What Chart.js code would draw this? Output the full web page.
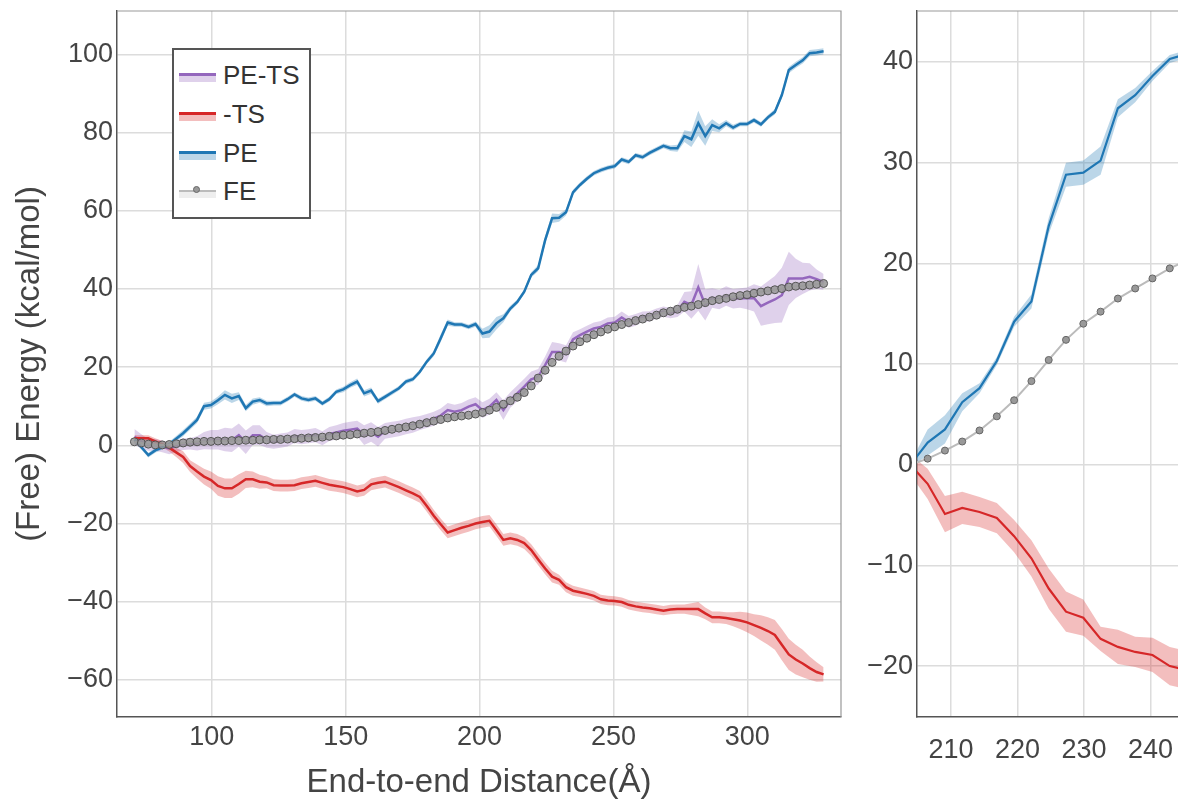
<!DOCTYPE html>
<html>
<head>
<meta charset="utf-8">
<script src="https://cdn.jsdelivr.net/npm/chart.js@4.4.1/dist/chart.umd.min.js"></script>
<style>
  html, body { margin: 0; padding: 0; width: 1178px; height: 803px; overflow: hidden; background: #fff; }
  #left { position: absolute; left: 0; top: 0; width: 846px; height: 803px; }
  #right { position: absolute; left: 846px; top: 0; width: 376px; height: 803px; }
  #legend { position: absolute; left: 172px; top: 48px; width: 135px; height: 167px; border: 2px solid #555; background: #fff;
            font-family: "Liberation Sans", Arial, sans-serif; font-size: 26px; color: #333; }
  .row { position: absolute; left: 0; width: 100%; height: 40px; }
  .row span { position: absolute; left: 49px; top: 0; line-height: 40px; }
  .sw { position: absolute; left: 5px; top: 18px; width: 37px; }
  .sw .ln { height: 3px; }
  .sw .bd { height: 6px; }
  .dot { position: absolute; left: 14px; top: -3px; width: 7px; height: 7px; border-radius: 50%; background: #999; border: 1px solid #666; box-sizing: border-box; }
</style>
</head>
<body>
<div id="left"><canvas id="leftChart" width="846" height="803"></canvas></div>
<div id="right"><canvas id="rightChart" width="376" height="803"></canvas></div>
<div id="legend">
  <div class="row" style="top:5px"><div class="sw"><div class="ln" style="background:#9467bd"></div><div class="bd" style="background:#dfd1eb"></div></div><span>PE-TS</span></div>
  <div class="row" style="top:44px"><div class="sw"><div class="ln" style="background:#d62728"></div><div class="bd" style="background:#f3bebe"></div></div><span>-TS</span></div>
  <div class="row" style="top:83px"><div class="sw"><div class="ln" style="background:#1f77b4"></div><div class="bd" style="background:#bcd6e8"></div></div><span>PE</span></div>
  <div class="row" style="top:121px"><div class="sw"><div class="ln" style="background:#bbb;height:2px;margin-top:1px"></div><div class="dot"></div><div class="bd" style="background:#eee"></div></div><span>FE</span></div>
</div>
<script>
// left panel: end-to-end distance grid (Å)
const leftX = [71.1, 73.7, 76.3, 78.9, 81.5, 84.1, 86.7, 89.3, 91.9, 94.5,
  97.1, 99.7, 102.3, 104.9, 107.5, 110.1, 112.7, 115.3, 117.9, 120.5,
  123.1, 125.7, 128.3, 130.9, 133.5, 136.1, 138.7, 141.3, 143.9, 146.5,
  149.1, 151.7, 154.3, 156.9, 159.5, 162.1, 164.7, 167.3, 169.9, 172.5,
  175.1, 177.7, 180.3, 182.9, 185.5, 188.1, 190.7, 193.3, 195.9, 198.5,
  201.1, 203.7, 206.3, 208.9, 211.5, 214.1, 216.7, 219.3, 221.9, 224.5,
  227.1, 229.7, 232.3, 234.9, 237.5, 240.1, 242.7, 245.3, 247.9, 250.5,
  253.1, 255.7, 258.3, 260.9, 263.5, 266.1, 268.7, 271.3, 273.9, 276.5,
  279.1, 281.7, 284.3, 286.9, 289.5, 292.1, 294.7, 297.3, 299.9, 302.5,
  305.1, 307.7, 310.3, 312.9, 315.5, 318.1, 320.7, 323.3, 325.9, 328.5];

const leftFE = [0.9, 0.6, 0.3, 0.1, 0.1, 0.2, 0.4, 0.6, 0.8, 0.9,
  1.0, 1.0, 1.1, 1.1, 1.2, 1.2, 1.3, 1.3, 1.4, 1.4,
  1.5, 1.5, 1.6, 1.7, 1.8, 1.9, 2.0, 2.1, 2.3, 2.4,
  2.6, 2.7, 2.9, 3.1, 3.3, 3.5, 3.8, 4.1, 4.4, 4.7,
  5.0, 5.4, 5.8, 6.2, 6.6, 7.0, 7.3, 7.5, 7.7, 8.0,
  8.4, 9.0, 9.7, 10.5, 11.4, 12.3, 13.5, 15.2, 17.2, 19.2,
  21.2, 22.8, 24.1, 25.4, 26.5, 27.4, 28.3, 29.0, 29.7, 30.3,
  30.9, 31.4, 31.9, 32.3, 32.8, 33.3, 33.9, 34.3, 34.8, 35.3,
  35.6, 36.0, 36.5, 37.0, 37.3, 37.6, 38.0, 38.3, 38.5, 38.9,
  39.2, 39.5, 39.8, 40.1, 40.5, 40.7, 40.8, 41.0, 41.2, 41.4];

const leftPE = [1.4, -0.5, -2.5, -1.3, -0.5, 0.3, 1.7, 3.1, 4.8, 6.5,
  10.0, 10.3, 11.5, 12.9, 12.0, 12.6, 9.5, 11.2, 11.6, 10.7,
  10.8, 10.8, 11.8, 13.0, 12.0, 11.6, 12.0, 10.7, 11.8, 13.7,
  14.3, 15.4, 16.3, 13.3, 14.0, 11.3, 12.4, 13.5, 14.6, 16.3,
  16.9, 18.8, 21.4, 23.5, 27.4, 31.4, 30.9, 30.9, 30.3, 31.0,
  28.6, 29.1, 31.2, 32.5, 35.0, 36.7, 39.3, 43.6, 45.3, 52.5,
  58.1, 58.2, 59.6, 64.7, 66.6, 68.2, 69.6, 70.4, 71.0, 71.4,
  73.1, 72.5, 74.2, 73.7, 74.8, 75.7, 76.6, 76.0, 76.0, 79.1,
  78.3, 82.4, 79.1, 81.9, 81.1, 82.4, 81.3, 82.2, 82.2, 83.2,
  82.1, 83.9, 85.3, 89.6, 96.0, 97.3, 98.5, 100.3, 100.5, 100.8];

const leftTS = [1.8, 1.8, 1.8, 1.0, 0.3, -0.6, -1.8, -3.0, -5.3, -6.7,
  -8.0, -8.9, -10.4, -11.0, -11.0, -9.9, -8.7, -8.7, -9.3, -9.5,
  -10.2, -10.3, -10.3, -10.2, -9.7, -9.4, -9.1, -9.6, -10.1, -10.4,
  -10.7, -11.2, -11.8, -11.4, -10.0, -9.6, -9.3, -10.0, -10.7, -11.5,
  -12.3, -13.2, -15.5, -18.0, -20.2, -22.3, -21.7, -21.1, -20.6, -20.0,
  -19.6, -19.3, -21.7, -24.2, -23.8, -24.2, -25.0, -26.8, -29.2, -31.5,
  -33.6, -34.4, -36.3, -37.2, -37.6, -38.0, -38.5, -39.4, -39.7, -39.8,
  -40.1, -40.8, -41.2, -41.5, -41.7, -42.0, -42.3, -42.0, -41.9, -41.9,
  -41.9, -41.9, -43.0, -44.0, -44.0, -44.2, -44.5, -44.8, -45.3, -46.0,
  -46.7, -47.5, -48.5, -51.0, -53.5, -54.8, -55.8, -57.0, -58.0, -58.6];

const leftPETS = [2.2, 1.0, 0.1, 0.1, -0.3, -0.8, -0.2, 0.3, 0.4, 0.5,
  1.2, 1.4, 1.4, 1.5, 1.3, 2.6, 0.8, 2.6, 2.6, 1.4,
  0.9, 1.2, 1.5, 2.4, 2.1, 2.3, 2.6, 1.8, 2.9, 3.3,
  3.7, 4.0, 4.3, 2.6, 3.4, 2.2, 3.7, 4.0, 4.3, 4.8,
  5.2, 5.7, 6.2, 6.8, 7.6, 9.0, 8.6, 9.0, 9.9, 10.5,
  9.0, 9.9, 11.6, 9.0, 11.6, 13.3, 15.0, 16.9, 17.5, 20.5,
  23.9, 23.9, 23.4, 27.1, 28.2, 29.1, 29.9, 30.3, 31.2, 31.4,
  32.7, 31.6, 32.1, 32.9, 33.0, 33.7, 34.2, 33.8, 34.3, 36.7,
  35.9, 40.4, 35.9, 37.7, 37.3, 38.2, 37.5, 37.7, 37.6, 37.7,
  35.6, 36.5, 37.3, 38.4, 42.7, 42.7, 42.7, 43.1, 42.5, 41.8];

// half-widths of the shaded bands
const leftPEErr = [0.6, 0.6, 0.6, 0.6, 0.6, 0.6, 0.7, 0.8, 0.8, 0.8,
  0.9, 0.9, 1.0, 1.2, 1.2, 1.0, 0.8, 0.8, 0.7, 0.7,
  0.6, 0.6, 0.6, 0.6, 0.6, 0.6, 0.6, 0.6, 0.6, 0.6,
  0.7, 0.7, 0.8, 0.8, 0.8, 0.7, 0.6, 0.6, 0.6, 0.6,
  0.6, 0.6, 0.6, 0.7, 1.0, 0.8, 0.6, 0.6, 0.6, 0.7,
  1.2, 1.6, 1.6, 1.0, 0.7, 0.6, 0.6, 0.7, 0.8, 1.0,
  1.2, 1.0, 0.8, 0.7, 0.6, 0.6, 0.6, 0.6, 0.6, 0.6,
  0.6, 0.6, 0.6, 0.6, 0.6, 0.6, 0.6, 0.7, 0.9, 1.5,
  2.0, 3.2, 2.5, 1.5, 1.0, 0.8, 0.7, 0.6, 0.6, 0.6,
  0.6, 0.6, 0.7, 0.8, 0.8, 0.8, 0.8, 0.8, 0.8, 0.8];

const leftTSErr = [0.8, 0.8, 0.8, 0.8, 0.8, 1.0, 1.2, 1.5, 1.5, 1.8,
  2.0, 2.2, 2.5, 2.5, 2.5, 2.5, 2.2, 2.0, 1.8, 1.5,
  1.5, 1.5, 1.5, 1.5, 1.5, 1.5, 1.5, 1.5, 1.5, 1.5,
  1.5, 1.5, 1.5, 1.5, 1.5, 1.5, 1.5, 1.5, 1.5, 1.5,
  1.5, 1.5, 1.5, 1.5, 1.5, 1.5, 1.5, 1.5, 1.5, 1.5,
  1.5, 1.5, 1.5, 1.5, 1.5, 1.5, 1.5, 1.5, 1.5, 1.5,
  1.5, 1.3, 1.3, 1.3, 1.2, 1.2, 1.2, 1.2, 1.2, 1.2,
  1.2, 1.2, 1.2, 1.2, 1.2, 1.2, 1.2, 1.2, 1.2, 1.2,
  1.5, 1.8, 1.5, 1.5, 1.5, 1.5, 1.8, 2.2, 2.5, 2.8,
  3.2, 3.5, 3.8, 4.0, 4.0, 3.8, 3.5, 3.0, 2.5, 1.8];

const leftPETSErr = [2.0, 1.8, 1.5, 1.5, 1.5, 1.5, 1.5, 1.5, 1.5, 1.8,
  2.2, 2.5, 2.5, 3.0, 3.0, 3.0, 3.0, 2.5, 2.5, 2.0,
  1.8, 1.8, 1.8, 1.8, 1.8, 1.8, 1.8, 1.8, 1.8, 1.8,
  2.0, 2.0, 2.0, 2.5, 2.5, 2.5, 2.0, 2.0, 2.0, 2.0,
  2.0, 1.8, 1.8, 1.8, 1.8, 1.8, 1.8, 1.8, 1.8, 1.8,
  2.0, 2.0, 2.0, 2.5, 2.0, 2.0, 2.0, 2.0, 2.0, 2.2,
  2.5, 2.2, 2.2, 1.8, 1.5, 1.5, 1.5, 1.5, 1.5, 1.5,
  1.5, 1.5, 1.5, 1.3, 1.3, 1.3, 1.3, 1.3, 1.5, 2.5,
  3.5, 6.0, 4.0, 2.5, 2.5, 2.5, 2.5, 2.5, 2.8, 3.5,
  5.0, 5.5, 6.0, 7.0, 6.8, 5.0, 4.0, 3.5, 2.5, 2.0];

// right panel (zoomed view, shifted to zero)
const rightX = [203.9, 206.5, 209.1, 211.7, 214.3, 216.9, 219.5, 222.1, 224.7, 227.3, 229.9, 232.5, 235.1, 237.7, 240.3, 242.9, 245.5];
const rightPE = [0, 2.2, 3.5, 6.2, 7.6, 10.3, 14.2, 16.2, 23.7, 28.8, 29.0, 30.2, 35.4, 36.7, 38.6, 40.3, 40.8];
const rightTS = [0, -1.9, -4.9, -4.3, -4.7, -5.3, -7.1, -9.3, -12.3, -14.6, -15.2, -17.3, -18.1, -18.6, -18.9, -20.0, -20.4];
const rightFE = [0, 0.6, 1.4, 2.3, 3.4, 4.8, 6.4, 8.3, 10.4, 12.4, 14.0, 15.2, 16.5, 17.5, 18.5, 19.5, 20.3];
const rightPEErr = [0.2, 1.3, 1.4, 0.9, 0.5, 0.4, 0.5, 0.7, 0.8, 1.2, 1.2, 1.4, 0.9, 0.7, 0.5, 0.4, 0.4];
const rightTSErr = [1.0, 1.5, 1.8, 1.6, 1.5, 1.5, 1.6, 1.8, 2.0, 2.0, 1.8, 1.2, 1.7, 1.5, 1.7, 1.9, 1.9];

// tick labels
const leftXTicks = [100, 150, 200, 250, 300];
const leftYTicks = [-60, -40, -20, 0, 20, 40, 60, 80, 100];
const rightXTicks = [210, 220, 230, 240];
const rightYTicks = [-20, -10, 0, 10, 20, 30, 40];

const FONT = '"Liberation Sans", Arial, sans-serif';
const TXT = '#444';
const fmt = v => v < 0 ? '\u2212' + Math.abs(v) : String(v);

function pts(xs, ys) {
    return xs.map((x, i) => ({ x: x, y: ys[i] }));
}

function line(xs, ys, color, width) {
    return { data: pts(xs, ys), borderColor: color, borderWidth: width, pointRadius: 0, fill: false, tension: 0 };
}

// lower edge then upper edge filled down to it
function band(xs, ys, err, color) {
    return [
        { data: xs.map((x, i) => ({ x: x, y: ys[i] - err[i] })), borderWidth: 0, pointRadius: 0, fill: false },
        { data: xs.map((x, i) => ({ x: x, y: ys[i] + err[i] })), borderWidth: 0, pointRadius: 0, fill: '-1', backgroundColor: color }
    ];
}

// light top / right spines
const framePlugin = {
    id: 'frame',
    beforeDatasetsDraw(chart) {
        const a = chart.chartArea, ctx = chart.ctx;
        ctx.save();
        ctx.strokeStyle = '#999';
        ctx.lineWidth = 1.2;
        ctx.beginPath();
        ctx.moveTo(a.left, a.top);
        ctx.lineTo(a.right, a.top);
        ctx.lineTo(a.right, a.bottom);
        ctx.stroke();
        ctx.restore();
    }
};

// fixed axis box size, no extra room for overhanging labels
function fixSize(prop, size) {
    return s => {
        s[prop] = size;
        s.paddingTop = 0; s.paddingBottom = 0; s.paddingLeft = 0; s.paddingRight = 0;
    };
}

function axis(min, max, ticks, extra) {
    return Object.assign({
        type: 'linear', min: min, max: max,
        afterBuildTicks: s => { s.ticks = ticks.map(v => ({ value: v })); },
        grid: { color: '#dcdcdc', lineWidth: 1.5, drawTicks: false },
        border: { display: true, color: '#555', width: 1.5 },
        ticks: { font: { family: FONT, size: 27 }, color: TXT, callback: fmt, padding: 4 }
    }, extra);
}

const common = {
    responsive: false,
    animation: false,
    plugins: { legend: { display: false }, tooltip: { enabled: false } }
};

// Left chart
new Chart(document.getElementById('leftChart'), {
    type: 'line',
    data: {
        datasets: [
            { data: pts(leftX, leftFE), borderColor: '#bbbbbb', borderWidth: 2, pointRadius: 4,
              pointBackgroundColor: 'rgba(150,150,150,0.85)', pointBorderColor: '#555', pointBorderWidth: 1, fill: false },
            line(leftX, leftPE, '#1f77b4', 2.5),
            line(leftX, leftTS, '#d62728', 2.5),
            line(leftX, leftPETS, '#9467bd', 2.5),
            ...band(leftX, leftPE, leftPEErr, 'rgba(31,119,180,0.3)'),
            ...band(leftX, leftTS, leftTSErr, 'rgba(214,39,40,0.3)'),
            ...band(leftX, leftPETS, leftPETSErr, 'rgba(148,103,189,0.3)')
        ]
    },
    options: Object.assign({}, common, {
        layout: { padding: { left: 0, right: 3, top: 11, bottom: 0 } },
        scales: {
            x: axis(64.6, 335.0, leftXTicks, {
                afterFit: fixSize('height', 86),
                title: { display: true, text: 'End-to-end Distance(Å)', color: TXT,
                         font: { family: FONT, size: 33 }, padding: { top: 0, bottom: 0 } }
            }),
            y: axis(-69.5, 111.1, leftYTicks, {
                afterFit: fixSize('width', 117),
                title: { display: true, text: '(Free) Energy (kcal/mol)', color: TXT,
                         font: { family: FONT, size: 33 }, padding: { top: 10, bottom: 0 } }
            })
        }
    }),
    plugins: [framePlugin]
});

// Right chart
new Chart(document.getElementById('rightChart'), {
    type: 'line',
    data: {
        datasets: [
            { data: pts(rightX, rightFE), borderColor: '#bbbbbb', borderWidth: 2, pointRadius: 3.5,
              pointBackgroundColor: '#999', pointBorderColor: '#666', pointBorderWidth: 1, fill: false },
            line(rightX, rightPE, '#1f77b4', 2.2),
            line(rightX, rightTS, '#d62728', 2.2),
            ...band(rightX, rightPE, rightPEErr, 'rgba(31,119,180,0.3)'),
            ...band(rightX, rightTS, rightTSErr, 'rgba(214,39,40,0.3)')
        ]
    },
    options: Object.assign({}, common, {
        layout: { padding: { left: 0, right: 3, top: 11, bottom: 0 } },
        scales: {
            x: axis(204.9, 250, rightXTicks, {
                afterFit: fixSize('height', 86),
                ticks: { font: { family: FONT, size: 27 }, color: TXT, callback: fmt, padding: 17 }
            }),
            y: axis(-25.06, 45.06, rightYTicks, { afterFit: fixSize('width', 71) })
        }
    }),
    plugins: [framePlugin]
});
</script>
</body>
</html>
